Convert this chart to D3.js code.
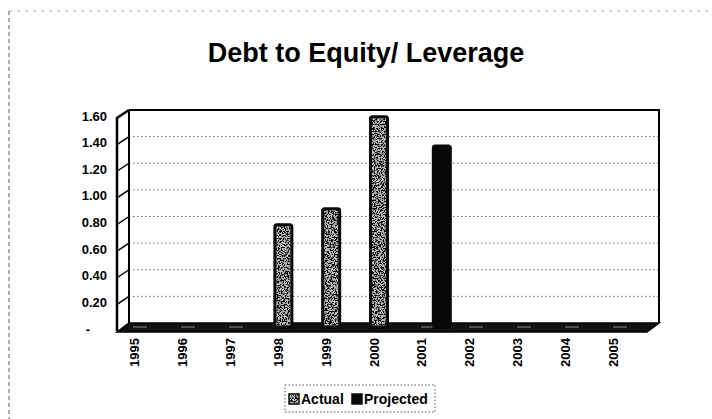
<!DOCTYPE html>
<html>
<head>
<meta charset="utf-8">
<script src="https://cdn.jsdelivr.net/npm/d3@7"></script>
<style>
  html, body { margin: 0; padding: 0; background: #fff; }
  svg { display: block; font-family: "Liberation Sans", Arial, sans-serif; }
</style>
</head>
<body>
<svg id="chart" width="712" height="419"></svg>
<script>
// Debt-to-equity ratio by year, actual and projected
const years = ["1995","1996","1997","1998","1999","2000","2001","2002","2003","2004","2005"];
const seriesNames = ["Actual", "Projected"];
const actual    = [null, null, null, 0.75, 0.87, 1.56, null, null, null, null, null];
const projected = [null, null, null, null, null, null, 1.34, null, null, null, null];
const yTicks = [0, 0.2, 0.4, 0.6, 0.8, 1.0, 1.2, 1.4, 1.6];
const title = "Debt to Equity/ Leverage";

const svg = d3.select("#chart");

// 3-D box: back wall, left side wall, floor
const back = { left: 129, right: 659, top: 110, bottom: 323 };
const depth = { dx: -12, dy: 8 };

const yBack = d3.scaleLinear().domain([0, 1.6]).range([back.bottom, back.top]);
const yFront = v => yBack(v) + depth.dy;
const x = d3.scaleBand().domain(years).range([111, 637]);
const seriesOffset = d3.scalePoint().domain(seriesNames).range([5, 20]);

const defs = svg.append("defs");
const f = defs.append("filter").attr("id", "speckle")
  .attr("x", 0).attr("y", 0).attr("width", 1).attr("height", 1);
f.append("feTurbulence").attr("type", "fractalNoise")
  .attr("baseFrequency", 0.7).attr("numOctaves", 2).attr("seed", 7).attr("result", "n");
f.append("feColorMatrix").attr("in", "n").attr("type", "matrix")
  .attr("values", "0 0 0 0 0  0 0 0 0 0  0 0 0 0 0  8 0 0 0 -3.7").attr("result", "dots");
f.append("feComposite").attr("in", "dots").attr("in2", "SourceGraphic").attr("operator", "in");

// faint page edges
svg.append("line").attr("x1", 9).attr("x2", 712).attr("y1", 11).attr("y2", 11)
  .attr("stroke", "#aaa").attr("stroke-width", 1).attr("stroke-dasharray", "3,5");
svg.append("line").attr("x1", 9).attr("x2", 9).attr("y1", 11).attr("y2", 419)
  .attr("stroke", "#777").attr("stroke-width", 1.2).attr("stroke-dasharray", "4,3");

// title
svg.append("text").attr("x", 366).attr("y", 62)
  .attr("text-anchor", "middle").attr("font-size", 27).attr("font-weight", "bold")
  .attr("fill", "#000").text(title);

// gridlines on the back wall
svg.append("g").selectAll("line")
  .data(yTicks.filter(v => v > 0 && v < 1.6))
  .join("line")
  .attr("x1", back.left).attr("x2", back.right)
  .attr("y1", d => yBack(d)).attr("y2", d => yBack(d))
  .attr("stroke", "#666").attr("stroke-width", 1).attr("stroke-dasharray", "1.5,2.5");

// back wall outline (top and right edges)
svg.append("path")
  .attr("d", `M${back.left},${back.top}H${back.right}V${back.bottom}`)
  .attr("fill", "none").attr("stroke", "#000").attr("stroke-width", 2);

// side wall
svg.append("line").attr("x1", back.left).attr("x2", back.left)
  .attr("y1", back.top).attr("y2", back.bottom)
  .attr("stroke", "#000").attr("stroke-width", 2);
svg.append("path")
  .attr("d", `M${back.left},${back.top}L${back.left + depth.dx},${back.top + depth.dy}V${back.bottom + depth.dy}`)
  .attr("fill", "none").attr("stroke", "#000").attr("stroke-width", 2.5);
svg.append("g").selectAll("line")
  .data(yTicks.filter(v => v > 0 && v < 1.6))
  .join("line")
  .attr("x1", back.left + depth.dx).attr("x2", back.left)
  .attr("y1", d => yFront(d)).attr("y2", d => yBack(d))
  .attr("stroke", "#000").attr("stroke-width", 1.5);

// floor
svg.append("path")
  .attr("d", `M${back.left},${back.bottom}H${back.right}L${back.right + depth.dx},${back.bottom + depth.dy + 1}H${back.left + depth.dx}Z`)
  .attr("fill", "#111").attr("stroke", "#000").attr("stroke-width", 1.5);
svg.append("line")
  .attr("x1", back.left + 4).attr("x2", back.right - 8)
  .attr("y1", back.bottom + 4).attr("y2", back.bottom + 4)
  .attr("stroke", "#ddd").attr("stroke-width", 1).attr("stroke-dasharray", "14,34").attr("opacity", 0.6);

// y tick labels (zero shown as a dash)
svg.append("g").selectAll("text")
  .data(yTicks)
  .join("text")
  .attr("x", d => d === 0 ? 90 : 107).attr("y", d => yFront(d) - 2).attr("dy", "0.35em")
  .attr("text-anchor", "end").attr("font-size", 13).attr("font-weight", "bold")
  .text(d => d === 0 ? "-" : d3.format(".2f")(d));

// x tick labels, rotated
svg.append("g").selectAll("text")
  .data(years)
  .join("text")
  .attr("transform", d => `translate(${x(d) + x.bandwidth() / 2},338) rotate(-90)`)
  .attr("dy", "0.35em")
  .attr("text-anchor", "end").attr("font-size", 13).attr("font-weight", "bold")
  .text(d => d);

// bars
const barW = 17;
const barBase = back.bottom + 4;
const rows = [];
years.forEach((yr, i) => {
  if (actual[i] != null) rows.push({ year: yr, series: "Actual", value: actual[i] });
  if (projected[i] != null) rows.push({ year: yr, series: "Projected", value: projected[i] });
});
const bars = svg.append("g").selectAll("g").data(rows).join("g");
const cx = d => x(d.year) + x.bandwidth() / 2 + seriesOffset(d.series);
bars.append("rect")
  .attr("x", d => cx(d) - barW / 2)
  .attr("y", d => yBack(d.value) + 1.5)
  .attr("width", barW)
  .attr("height", d => barBase - yBack(d.value) - 1.5)
  .attr("rx", 2)
  .attr("fill", d => d.series === "Actual" ? "#b8b8b8" : "#080808")
  .attr("stroke", "#080808").attr("stroke-width", 3);
bars.filter(d => d.series === "Actual").append("rect")
  .attr("x", d => cx(d) - barW / 2 + 1.5)
  .attr("y", d => yBack(d.value) + 3)
  .attr("width", barW - 3)
  .attr("height", d => barBase - yBack(d.value) - 4.5)
  .attr("fill", "#000").attr("filter", "url(#speckle)");

// legend
const legend = svg.append("g");
legend.append("rect").attr("x", 285).attr("y", 385).attr("width", 150).attr("height", 27)
  .attr("fill", "none").attr("stroke", "#555").attr("stroke-width", 1).attr("stroke-dasharray", "1.5,2");
const items = [
  { name: seriesNames[0], sx: 289, tx: 301 },
  { name: seriesNames[1], sx: 352, tx: 364 }
];
items.forEach(it => {
  legend.append("rect").attr("x", it.sx).attr("y", 394).attr("width", 10).attr("height", 10)
    .attr("fill", it.name === "Actual" ? "#b8b8b8" : "#080808")
    .attr("stroke", "#080808").attr("stroke-width", 1.5);
  if (it.name === "Actual") {
    legend.append("rect").attr("x", it.sx + 1).attr("y", 395).attr("width", 8).attr("height", 8)
      .attr("fill", "#000").attr("filter", "url(#speckle)");
  }
  legend.append("text").attr("x", it.tx).attr("y", 404)
    .attr("font-size", 14).attr("font-weight", "bold").text(it.name);
});
</script>
</body>
</html>
